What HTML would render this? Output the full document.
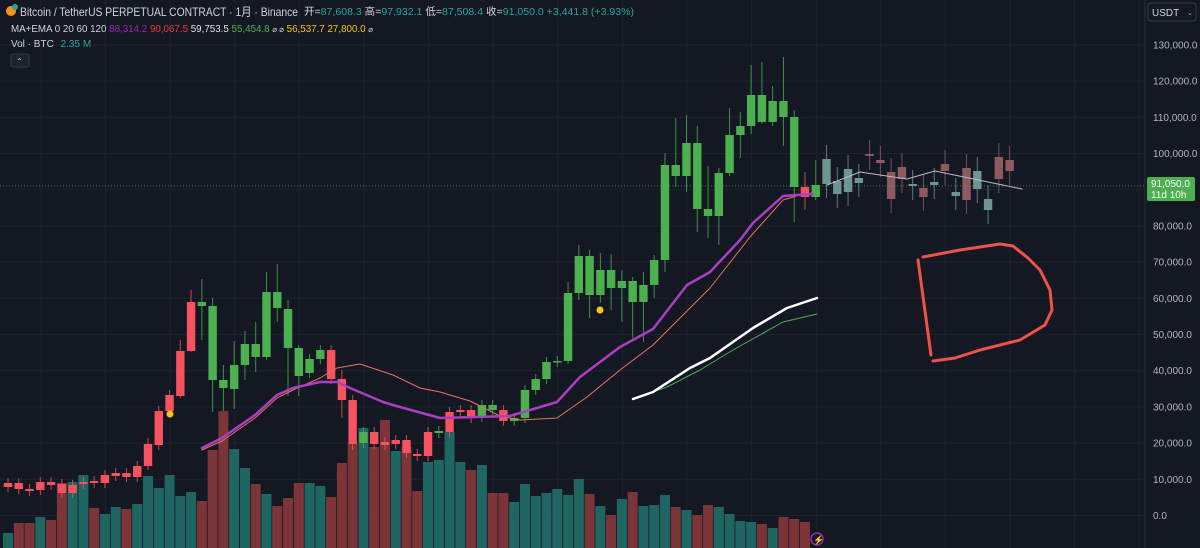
<!DOCTYPE html>
<html><head><meta charset="utf-8"><style>
html,body{margin:0;padding:0;background:#141823;width:1200px;height:548px;overflow:hidden;font-family:"Liberation Sans","Noto Sans CJK SC",sans-serif}
</style></head><body>
<svg id="s" width="1200" height="548" xmlns="http://www.w3.org/2000/svg" style="position:absolute;left:0;top:0">
<rect width="1200" height="548" fill="#141823"/>
<g id="grid"></g>
<g id="vol"></g>
<g id="cdl"></g>
<g id="ma" fill="none"></g>
<line x1="0" y1="186" x2="1145" y2="186" stroke="#4caf50" stroke-width="1" stroke-dasharray="1,2" opacity="0.7"/>
<line x1="1145" y1="0" x2="1145" y2="548" stroke="#2a2e39"/>
<g id="axis" font-size="10" fill="#b2b5be"></g>
<rect x="1147" y="177" width="48" height="24" rx="2" fill="#4caf50"/>
<text x="1151" y="187" font-size="10" fill="#fff">91,050.0</text>
<text x="1151" y="198" font-size="10" fill="#fff">11d 10h</text>
<rect x="1148" y="3" width="48" height="18" rx="3" fill="#141823" stroke="#363a45"/>
<text x="1152" y="16" font-size="10" fill="#d1d4dc">USDT</text>
<text x="1187" y="15" font-size="7" fill="#b2b5be">⌄</text>
<polyline points="918,260 931,355" stroke="#f0514a" stroke-width="3" fill="none" stroke-linecap="round"/>
<polyline points="923,257 960,250 1000,244 1013,246 1028,258 1040,270 1050,290 1052,310 1045,325 1020,340 980,350 955,358 933,361" stroke="#f0514a" stroke-width="3" fill="none" stroke-linecap="round" stroke-linejoin="round"/>
<circle cx="170" cy="414" r="3.5" fill="#f5c518"/>
<circle cx="600" cy="310" r="3.5" fill="#f5c518"/>
<circle cx="817" cy="539" r="6" fill="none" stroke="#9c27b0" stroke-width="1.5"/>
<text x="813" y="543" font-size="9" fill="#e040fb">⚡</text>
<circle cx="11" cy="11" r="5" fill="#f7931a"/><circle cx="15" cy="7" r="3" fill="#26a69a"/>
<text x="20" y="16" font-size="12" fill="#d1d4dc" textLength="278" lengthAdjust="spacingAndGlyphs">Bitcoin / TetherUS PERPETUAL CONTRACT · 1月 · Binance</text>
<text x="304" y="15" font-size="10" fill="#d1d4dc" textLength="330" lengthAdjust="spacingAndGlyphs">开=<tspan fill="#26a69a">87,608.3</tspan> 高=<tspan fill="#26a69a">97,932.1</tspan> 低=<tspan fill="#26a69a">87,508.4</tspan> 收=<tspan fill="#26a69a">91,050.0</tspan> <tspan fill="#26a69a">+3,441.8 (+3.93%)</tspan></text>
<text x="11" y="32" font-size="10" fill="#d1d4dc" textLength="362" lengthAdjust="spacingAndGlyphs">MA+EMA 0 20 60 120 <tspan fill="#9c27b0">88,314.2</tspan> <tspan fill="#f23645">90,067.5</tspan> <tspan fill="#e0e0e0">59,753.5</tspan> <tspan fill="#4caf50">55,454.8</tspan> <tspan font-size="8">⌀ ⌀</tspan> <tspan fill="#f5c518">56,537.7</tspan> <tspan fill="#f5c518">27,800.0</tspan> <tspan font-size="8">⌀</tspan></text>
<text x="11" y="47" font-size="10" fill="#d1d4dc">Vol · BTC <tspan fill="#26a69a" dx="4">2.35 M</tspan></text>
<rect x="11" y="54" width="18" height="13" rx="2" fill="#1e222d" stroke="#363a45"/>
<text x="16" y="64" font-size="8" fill="#d1d4dc">⌃</text>
</svg>
<script>
const NS="http://www.w3.org/2000/svg";
function el(p,t,a){const e=document.createElementNS(NS,t);for(const k in a)e.setAttribute(k,a[k]);document.getElementById(p).appendChild(e);return e;}
const Y=p=>515.5-p/10000*36.2;
for(let k=0;k<=13;k++){const y=Y(k*10000);el("grid","line",{x1:0,x2:1145,y1:y,y2:y,stroke:"#1e222d"});
 const t=el("axis","text",{x:1153,y:y+3.5});t.textContent=(k==0?"0.0":(k*10).toLocaleString("en-US")+",000.0");}
for(let x=41;x<1145;x+=64.6)el("grid","line",{x1:x,x2:x,y1:0,y2:548,stroke:"#1e222d"});
const X=i=>8+10.77*i;
const C=[[483,487,'r'],[483,489,'r'],[489,491,'r'],[482,490,'r'],[482,485,'r'],[484,493,'r'],[485,493,'r'],[482,484,'r'],[481,483,'r'],[475,483,'r'],
[473,476,'r'],[473,477,'r'],[466,477,'r'],[444,466,'r'],[411,445,'r'],[395,411,'r'],[351,396,'r'],[302,351,'r'],[302,306,'g'],[306,380,'g'],
[380,388,'g'],[365,389,'g'],[344,365,'g'],[344,357,'g'],[292,357,'g'],[292,308,'g'],[309,348,'g'],[348,376,'g'],[359,373,'g'],[350,359,'g'],
[350,379,'r'],[379,400,'r'],[400,444,'r'],[432,443,'g'],[432,444,'r'],[442,445,'r'],[440,444,'r'],[440,453,'r'],[454,456,'r'],[432,456,'r'],
[431,433,'g'],[412,432,'r'],[410,412,'r'],[410,418,'r'],[405,417,'g'],[405,410,'g'],[410,421,'r'],[418,421,'g'],[390,418,'g'],[379,390,'g'],
[362,379,'g'],[361,362,'g'],[293,361,'g'],[256,293,'g'],[256,295,'g'],[270,295,'g'],[270,288,'g'],[281,288,'g'],[281,302,'g'],[285,302,'g'],
[260,285,'g'],[165,260,'g'],[165,176,'g'],[143,176,'g'],[143,209,'g'],[209,216,'g'],[173,216,'g'],[135,173,'g'],[126,135,'g'],[95,126,'g'],
[95,122,'g'],[101,122,'g'],[101,117,'g'],[117,187,'g'],[187,197,'r'],[185,197,'g'],
[159,184,'T'],[181,194,'T'],[169,192,'T'],[178,183,'T'],[154,156,'R'],[160,163,'R'],[172,199,'R'],[167,179,'R'],[184,186,'T'],[188,197,'R'],
[182,185,'T'],[164,171,'R'],[192,196,'T'],[168,200,'R'],[171,189,'T'],[199,210,'T'],[157,179,'R'],[160,171,'R']];
const col={r:"#f7525f",g:"#4caf50",R:"#8e5a60",T:"#6f9593"};
const wickX={13:[438,470],16:[340,398],17:[290,352],18:[279,340],19:[298,412],20:[365,411],21:[341,409],22:[331,380],23:[322,372],24:[272,360],25:[264,322],26:[300,396],27:[345,396],31:[370,418],32:[395,450],52:[282,364],53:[245,300],54:[250,318],55:[253,303],56:[254,310],57:[270,322],58:[277,338],59:[272,342],60:[255,298],61:[153,272],62:[118,187],63:[115,192],64:[126,232],65:[166,238],66:[168,245],67:[108,176],68:[112,158],69:[65,134],70:[62,124],71:[86,126],72:[57,146],73:[110,222],74:[172,210],75:[160,200]};
C.forEach((c,i)=>{const x=X(i);let hi=c[0]-(c[2]=='R'||c[2]=='T'?14:5),lo=c[1]+(c[2]=='R'||c[2]=='T'?14:5);
 if(wickX[i]){hi=wickX[i][0];lo=wickX[i][1];}
 el("cdl","line",{x1:x,x2:x,y1:hi,y2:lo,stroke:col[c[2]],"stroke-width":1,opacity:0.8});
 el("cdl","rect",{x:x-4.2,y:c[0],width:8.4,height:Math.max(1.5,c[1]-c[0]),fill:col[c[2]]});});
const V=[[533,'t'],[523,'r'],[523,'r'],[517,'t'],[520,'r'],[483,'r'],[482,'t'],[475,'t'],[508,'r'],[514,'t'],[507,'t'],[509,'r'],[504,'t'],[476,'t'],[488,'t'],[475,'t'],[496,'t'],[492,'t'],[501,'r'],[450,'r'],
[411,'r'],[449,'t'],[468,'t'],[484,'r'],[494,'t'],[506,'r'],[498,'r'],[483,'r'],[483,'t'],[486,'t'],[497,'r'],[463,'r'],[443,'r'],[428,'t'],[447,'r'],[420,'r'],[451,'t'],[447,'r'],[491,'r'],[462,'t'],
[460,'t'],[432,'t'],[462,'t'],[470,'r'],[465,'t'],[493,'r'],[493,'r'],[502,'t'],[484,'t'],[496,'t'],[493,'t'],[489,'t'],[495,'t'],[479,'t'],[494,'r'],[506,'t'],[515,'r'],[499,'t'],[492,'r'],[506,'t'],
[505,'t'],[495,'t'],[507,'r'],[510,'t'],[515,'r'],[505,'r'],[507,'t'],[514,'t'],[521,'t'],[522,'t'],[524,'r'],[528,'t'],[517,'r'],[519,'r'],[522,'r']];
V.forEach((v,i)=>el("vol","rect",{x:X(i)-5,y:v[0],width:10,height:548-v[0],fill:v[1]=='r'?"#7b3539":"#1f6662"}));
function pl(pts,c,w){el("ma","polyline",{points:pts,stroke:c,"stroke-width":w,"stroke-linejoin":"round","stroke-linecap":"round"});}
pl("202,450 222,441 255,418 277,398 293,390 320,378 337,368 360,364 393,375 420,388 440,392 470,401 500,416 520,420 557,418 587,397 620,370 653,345 680,318 710,288 750,237 783,200 803,194 813,193","#e8735a",1);
pl("202,448 222,438 255,415 277,395 293,388 320,382 337,382 350,388 383,402 400,407 440,418 510,416 557,402 580,377 620,347 653,329 687,285 710,272 740,240 753,223 783,196 797,195 813,194","#ab3fc4",2.5);
pl("633,399 667,387 700,370 733,350 783,322 817,314","#4caf50",1);
pl("633,399 653,392 690,368 710,358 753,328 787,308 817,298","#ffffff",2.5);
pl("827,185 860,172 907,179 935,171 1022,189","#b8bcc4",1);
</script>
</body></html>
